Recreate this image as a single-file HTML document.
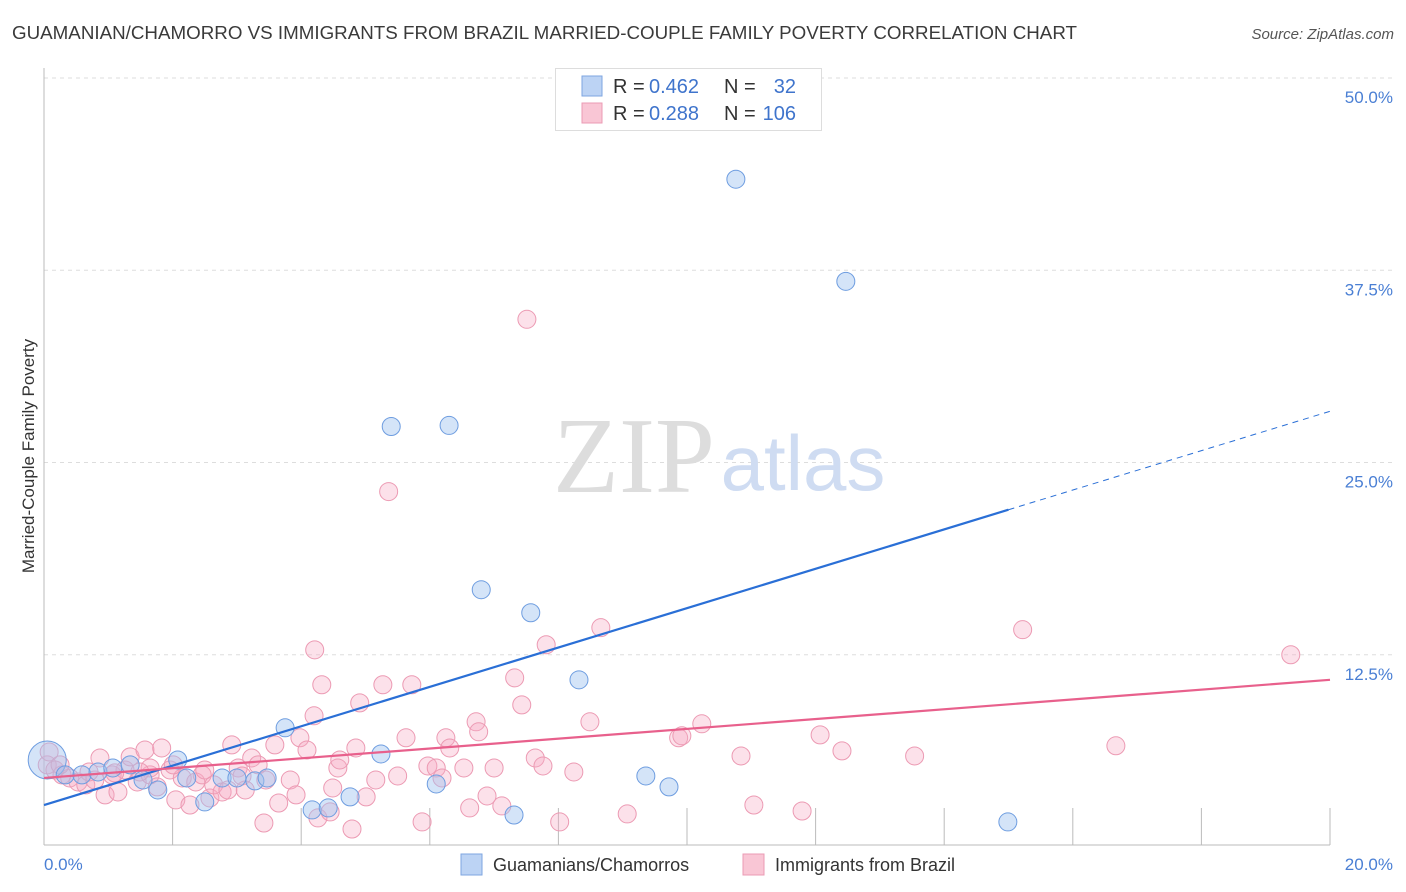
<!DOCTYPE html>
<html><head><meta charset="utf-8"><style>
body{margin:0;background:#fff;font-family:"Liberation Sans",sans-serif;}
svg{display:block}
</style></head><body>
<svg id="chart" width="1406" height="892">
<text x="12" y="39" font-size="18" textLength="1065" lengthAdjust="spacingAndGlyphs" fill="#3a3a3a">GUAMANIAN/CHAMORRO VS IMMIGRANTS FROM BRAZIL MARRIED-COUPLE FAMILY POVERTY CORRELATION CHART</text>
<text x="1394" y="39" font-size="15" fill="#555" text-anchor="end" font-style="italic">Source: ZipAtlas.com</text>
<text transform="translate(34,456) rotate(-90)" font-size="17" fill="#333" text-anchor="middle">Married-Couple Family Poverty</text>
<g id="grid"></g>
<text x="634" y="492" font-size="108" fill="#ddd" font-family="Liberation Serif,serif" text-anchor="middle">ZIP</text>
<text x="803" y="490" font-size="78" fill="#cfdcf2" text-anchor="middle">atlas</text>
<g id="pts"></g>
<g id="lines"></g>
<g>
<rect x="555.5" y="68.5" width="266" height="62" fill="#fff" stroke="#ddd"/>
<rect x="582" y="76" width="20" height="20" fill="#bcd3f4" stroke="#7ea6e0"/>
<rect x="582" y="103" width="20" height="20" fill="#f9c6d5" stroke="#eb9bb4"/>
<g font-size="20" fill="#333">
<text x="613" y="93">R =</text>
<text x="649" y="93" fill="#3f74cc">0.462</text>
<text x="724" y="93">N =</text>
<text x="796" y="93" fill="#3f74cc" text-anchor="end">32</text>
<text x="613" y="120">R =</text>
<text x="649" y="120" fill="#3f74cc">0.288</text>
<text x="724" y="120">N =</text>
<text x="796" y="120" fill="#3f74cc" text-anchor="end">106</text>
</g>
</g>
<g>
<rect x="461" y="854" width="21" height="21" fill="#bcd3f4" stroke="#7ea6e0"/>
<text x="493" y="871" font-size="18" fill="#333">Guamanians/Chamorros</text>
<rect x="743" y="854" width="21" height="21" fill="#f9c6d5" stroke="#eb9bb4"/>
<text x="775" y="871" font-size="18" fill="#333">Immigrants from Brazil</text>
</g>
</svg>
<script>
const xTicks=[0,2,4,6,8,10,12,14,16,18,20];
const xTickLabels=["0.0%","20.0%"];
const yTicks=[12.5,25,37.5,50];
const yTickLabels=["12.5%","25.0%","37.5%","50.0%"];
const blueX=[0.05,0.33,0.59,0.84,1.07,1.34,1.54,1.77,2.08,2.22,2.50,2.77,3.00,3.28,3.47,3.75,4.17,4.42,4.76,5.24,5.40,6.10,6.30,6.80,7.31,7.57,8.32,9.36,9.72,10.76,12.47,14.99];
const blueY=[5.66,4.69,4.69,4.88,5.14,5.34,4.36,3.71,5.66,4.49,2.93,4.49,4.49,4.30,4.49,7.75,2.41,2.54,3.26,6.05,27.34,4.10,27.41,16.73,2.08,15.23,10.87,4.62,3.91,43.42,36.78,1.63];
const pinkX=[0.05,0.17,0.28,0.40,0.53,0.65,0.79,0.87,0.95,1.06,1.15,1.26,1.34,1.45,1.57,1.65,1.76,1.83,1.96,2.05,2.15,2.27,2.36,2.46,2.58,2.64,2.77,2.86,2.92,3.02,3.08,3.23,3.33,3.42,3.45,3.59,3.65,3.83,3.92,3.98,4.09,4.20,4.21,4.32,4.26,4.45,4.49,4.57,4.60,4.79,4.85,4.91,5.01,5.16,5.27,5.50,5.63,5.72,5.88,5.97,6.10,6.19,6.25,6.31,6.53,6.62,6.72,6.76,6.89,7.00,7.12,7.32,7.43,7.51,7.64,7.76,7.81,8.02,8.24,8.49,8.66,9.07,9.87,9.92,10.23,10.84,11.04,11.79,12.07,12.41,13.54,15.22,16.67,19.39,5.36,0.08,0.70,1.10,1.65,2.01,2.50,0.25,1.49,3.13];
const pinkY=[5.34,5.01,4.69,4.49,4.23,4.04,4.36,5.79,3.39,4.69,3.58,5.01,5.86,4.23,6.31,4.69,3.91,6.44,5.01,3.06,4.49,2.73,4.23,4.69,3.19,4.04,3.58,3.71,6.64,5.14,4.62,5.79,5.34,1.56,4.36,6.64,2.86,4.36,3.39,7.10,6.31,8.53,12.82,10.55,1.89,2.28,3.84,5.14,5.66,1.17,6.44,9.37,3.26,4.36,10.55,4.62,7.10,10.55,1.63,5.27,5.14,4.49,7.10,6.44,5.14,2.54,8.14,7.49,3.32,5.14,2.67,11.00,9.24,34.31,5.79,5.27,13.15,1.63,4.88,8.14,14.26,2.15,7.10,7.23,8.01,5.92,2.73,2.34,7.29,6.25,5.92,14.13,6.58,12.50,23.11,6.18,4.88,4.82,5.14,5.34,5.01,5.34,4.88,3.71];
const blueTrend=[2.73,1.28];
const blueSolidEnd=[15];
const pinkTrend=[4.49,0.319];
const NS="http://www.w3.org/2000/svg";
const L=44,R=1330,T=78,B=847;
const sx=v=>L+v/20*(R-L);
const sy=v=>B-v/50*(B-T);
function mk(tag,attrs,parent){const e=document.createElementNS(NS,tag);for(const k in attrs)e.setAttribute(k,attrs[k]);parent.appendChild(e);return e;}
const grid=document.getElementById('grid');
yTicks.forEach((t,i)=>{
  const g=mk('line',{x1:L,x2:1393,y1:sy(t),y2:sy(t),stroke:'#ddd','stroke-dasharray':'4,4'},grid);
  
  
  const tx=mk('text',{x:1393,y:sy(t)+25,'font-size':17,fill:'#4a7fd4','text-anchor':'end'},grid);
  tx.textContent=yTickLabels[i];
  
  
});
const ax=mk('line',{x1:L,x2:L,y1:68,y2:845,stroke:'#bbb'},grid);


const bx=mk('line',{x1:L,x2:R,y1:845,y2:845,stroke:'#bbb'},grid);


xTicks.forEach(t=>{
  if(t===0)return;
  const tk=mk('line',{x1:sx(t),x2:sx(t),y1:808,y2:845,stroke:'#bbb'},grid);
  
  
});
const xl0=mk('text',{x:44,y:870,'font-size':17,fill:'#4a7fd4'},grid);
xl0.textContent=xTickLabels[0];


const xl1=mk('text',{x:1393,y:870,'font-size':17,fill:'#4a7fd4','text-anchor':'end'},grid);
xl1.textContent=xTickLabels[1];


const pts=document.getElementById('pts');
pinkX.forEach((x,i)=>{
  const c=mk('circle',{cx:sx(x),cy:sy(pinkY[i]),r:9,fill:'rgba(246,170,196,0.35)',stroke:'#ec9ab3','stroke-width':1},pts);
  
  
});
blueX.forEach((x,i)=>{
  const c=mk('circle',{cx:sx(x),cy:sy(blueY[i]),r:i===0?19:9,fill:'rgba(160,195,240,0.45)',stroke:'#6e9de0','stroke-width':1},pts);
  
  
});
const lines=document.getElementById('lines');
const fb=x=>blueTrend[0]+blueTrend[1]*x, fp=x=>pinkTrend[0]+pinkTrend[1]*x;
const l1=mk('line',{x1:sx(0),y1:sy(fb(0)),x2:sx(blueSolidEnd[0]),y2:sy(fb(blueSolidEnd[0])),stroke:'#2a6fd6','stroke-width':2.2},lines);


const l2=mk('line',{x1:sx(blueSolidEnd[0]),y1:sy(fb(blueSolidEnd[0])),x2:sx(20),y2:sy(fb(20)),stroke:'#2a6fd6','stroke-width':1,'stroke-dasharray':'6,5'},lines);


const l3=mk('line',{x1:sx(0),y1:sy(fp(0)),x2:sx(20),y2:sy(fp(20)),stroke:'#e8608c','stroke-width':2.2},lines);


</script>
</body></html>
